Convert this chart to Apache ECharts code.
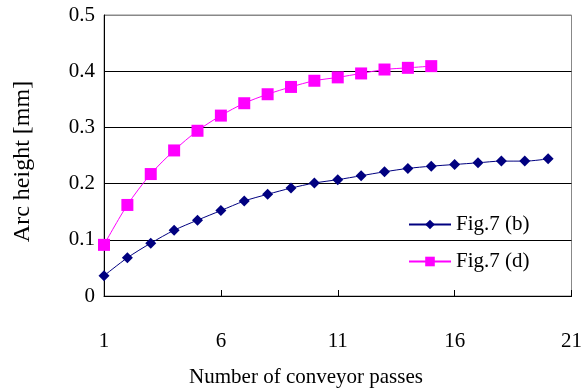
<!DOCTYPE html>
<html>
<head>
<meta charset="UTF-8">
<title>Arc height</title>
<script src="https://cdn.jsdelivr.net/npm/echarts@6/dist/echarts.min.js"></script>
<style>
  html, body { margin: 0; padding: 0; background: #fff; }
  #main { width: 585px; height: 390px; }
</style>
</head>
<body>
<div id="main"></div>
<script>
// passes (x) and arc heights
var passesB = [1, 2, 3, 4, 5, 6, 7, 8, 9, 10, 11, 12, 13, 14, 15, 16, 17, 18, 19, 20];
var arcB = [0.036, 0.068, 0.094, 0.117, 0.135, 0.152, 0.169, 0.181, 0.192, 0.201, 0.207, 0.214, 0.221, 0.227, 0.231, 0.234, 0.237, 0.240, 0.240, 0.244];
var passesD = [1, 2, 3, 4, 5, 6, 7, 8, 9, 10, 11, 12, 13, 14, 15];
var arcD = [0.091, 0.162, 0.217, 0.259, 0.294, 0.321, 0.343, 0.359, 0.372, 0.383, 0.389, 0.396, 0.403, 0.406, 0.409];
var xTicks = { min: 1, max: 21, step: 5 };
var yTicks = { min: 0, max: 0.5, step: 0.1 };

function pairs(xs, ys) {
  var out = [];
  for (var i = 0; i < xs.length; i++) out.push([xs[i], ys[i]]);
  return out;
}

var FONT = 'Liberation Serif';
var chart = echarts.init(document.getElementById('main'));
var option = {
  backgroundColor: '#fff',
  animation: false,
  textStyle: { fontFamily: FONT },
  grid: {
    left: 104, right: 13, top: 15, bottom: 94,
    show: true, borderColor: '#888', borderWidth: 1
  },
  legend: {
    orient: 'vertical',
    left: 408, top: 214, padding: 0,
    itemWidth: 42, itemHeight: 12, itemGap: 16,
    textStyle: { fontFamily: FONT, fontSize: 21, color: '#000' },
    data: ['Fig.7 (b)', 'Fig.7 (d)']
  },
  xAxis: {
    type: 'value',
    min: xTicks.min, max: xTicks.max, interval: xTicks.step,
    axisLine: { lineStyle: { color: '#000', width: 1 } },
    axisTick: { inside: true, length: 6, lineStyle: { color: '#000' } },
    axisLabel: { margin: 35, fontFamily: FONT, fontSize: 21, color: '#000' },
    splitLine: { show: false }
  },
  yAxis: {
    type: 'value',
    min: yTicks.min, max: yTicks.max, interval: yTicks.step,
    name: 'Arc height [mm]',
    nameLocation: 'middle',
    nameGap: 69,
    nameTextStyle: { fontFamily: FONT, fontSize: 24, color: '#000', padding: [0, 12, 0, 0] },
    axisLine: { show: true, lineStyle: { color: '#000', width: 1 } },
    axisTick: { show: false },
    axisLabel: { margin: 9, fontFamily: FONT, fontSize: 21, color: '#000',
      formatter: function (v) { return +v.toFixed(1) + ''; } },
    splitLine: { show: true, lineStyle: { color: ['#000', '#000', '#000', '#000', '#000', '#888'], width: 1 } }
  },
  graphic: [{
    type: 'text',
    x: 306, y: 377,
    style: { text: 'Number of conveyor passes', fontFamily: FONT, fontSize: 21, fill: '#000',
      align: 'center', verticalAlign: 'middle' }
  }],
  series: [{
    name: 'Fig.7 (b)',
    type: 'line',
    smooth: 0.3,
    data: pairs(passesB, arcB),
    symbol: 'diamond',
    symbolSize: 11,
    itemStyle: { color: '#000080' },
    lineStyle: { color: '#000080', width: 1 }
  }, {
    name: 'Fig.7 (d)',
    type: 'line',
    smooth: 0.3,
    data: pairs(passesD, arcD),
    symbol: 'rect',
    symbolSize: 12,
    itemStyle: { color: '#ff00ff' },
    lineStyle: { color: '#ff00ff', width: 1 }
  }]
};
chart.setOption(option);
</script>
</body>
</html>
